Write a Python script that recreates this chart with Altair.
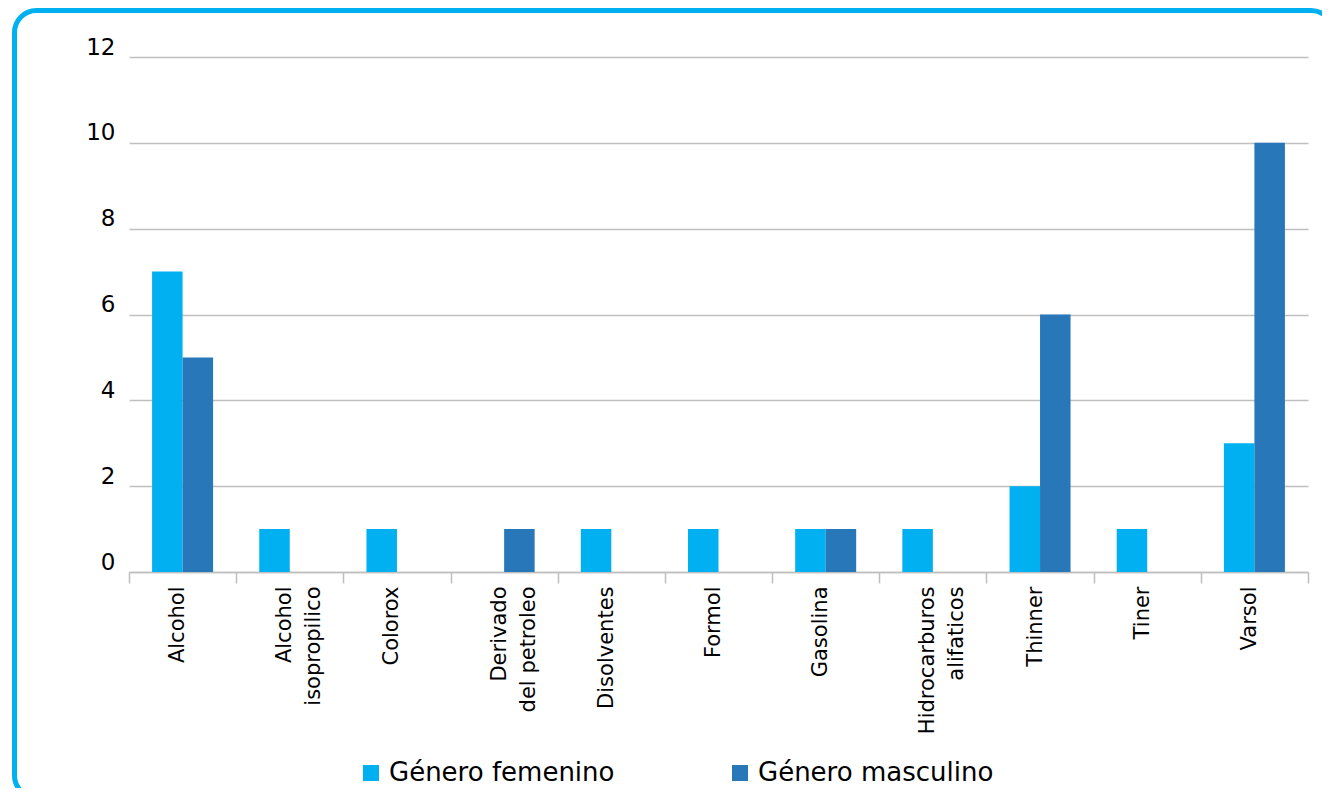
import altair as alt
import pandas as pd

categories = ["Alcohol", "Alcohol isopropilico", "Colorox", "Derivado del petroleo",
              "Disolventes", "Formol", "Gasolina", "Hidrocarburos alifaticos",
              "Thinner", "Tiner", "Varsol"]
femenino = [7, 1, 1, 0, 1, 1, 1, 1, 2, 1, 3]
masculino = [5, 0, 0, 1, 0, 0, 1, 0, 6, 0, 10]
genders = ["Género femenino", "Género masculino"]
colors = ["#00b0f0", "#2777b9"]
y_ticks = [0, 2, 4, 6, 8, 10, 12]

rows = []
for c, f, m in zip(categories, femenino, masculino):
    rows.append({"Sustancia": c, "Género": genders[0], "Casos": f})
    rows.append({"Sustancia": c, "Género": genders[1], "Casos": m})
df = pd.DataFrame(rows)

FONT = "DejaVu Sans"

label_expr = ("indexof(datum.label, ' ') > 0 ? "
              "[slice(datum.label, 0, indexof(datum.label, ' ')), "
              "slice(datum.label, indexof(datum.label, ' ') + 1)] : datum.label")

bars = alt.Chart(df).mark_bar().encode(
    x=alt.X("Sustancia:N", sort=categories,
            scale=alt.Scale(paddingInner=0, paddingOuter=0),
            axis=alt.Axis(title=None, labelAngle=-90, labelExpr=label_expr,
                          labelFont=FONT, labelFontSize=21, labelLineHeight=29,
                          labelColor="#000000", labelPadding=3, labelOffset=-5,
                          tickBand="extent", tickSize=11, tickColor="#bfbfbf",
                          tickWidth=1.5, domainColor="#bfbfbf", domainWidth=1.5,
                          grid=False, labelLimit=400)),
    xOffset=alt.XOffset("Género:N", sort=genders,
                        scale=alt.Scale(paddingInner=0, paddingOuter=0.757)),
    y=alt.Y("Casos:Q", scale=alt.Scale(domain=[0, 12], nice=False),
            axis=alt.Axis(title=None, values=y_ticks, grid=True, gridColor="#bfbfbf",
                          gridWidth=1.5, domain=False, ticks=False, labelPadding=14,
                          labelFont=FONT, labelFontSize=23, labelColor="#000000",
                          labelOffset=-10)),
    color=alt.Color("Género:N", sort=genders,
                    scale=alt.Scale(domain=genders, range=colors),
                    legend=alt.Legend(title=None, orient="none", direction="horizontal",
                                      legendX=229, legendY=703, symbolType="square",
                                      symbolSize=256, symbolStrokeWidth=0,
                                      symbolOpacity=1, labelFont=FONT,
                                      labelFontSize=26, labelColor="#000000",
                                      labelOffset=5, columnPadding=112,
                                      labelLimit=500, padding=0)),
)

border = alt.Chart(alt.Data(values=[{"k": 1}])).mark_rect(
    fill=None, stroke="#00b0f0", strokeWidth=5, cornerRadius=22
).encode(
    x=alt.value(-114.5), x2=alt.value(1204),
    y=alt.value(-46.5), y2=alt.value(740.5),
)

chart = alt.layer(border, bars).properties(
    width=1179, height=515,
    padding={"left": 121, "top": 49, "right": 14, "bottom": 216},
    autosize=alt.AutoSizeParams(type="none"),
    background="#ffffff",
).configure_view(stroke=None)

chart.save("out.html", embed_options={"renderer": "svg", "actions": False})
